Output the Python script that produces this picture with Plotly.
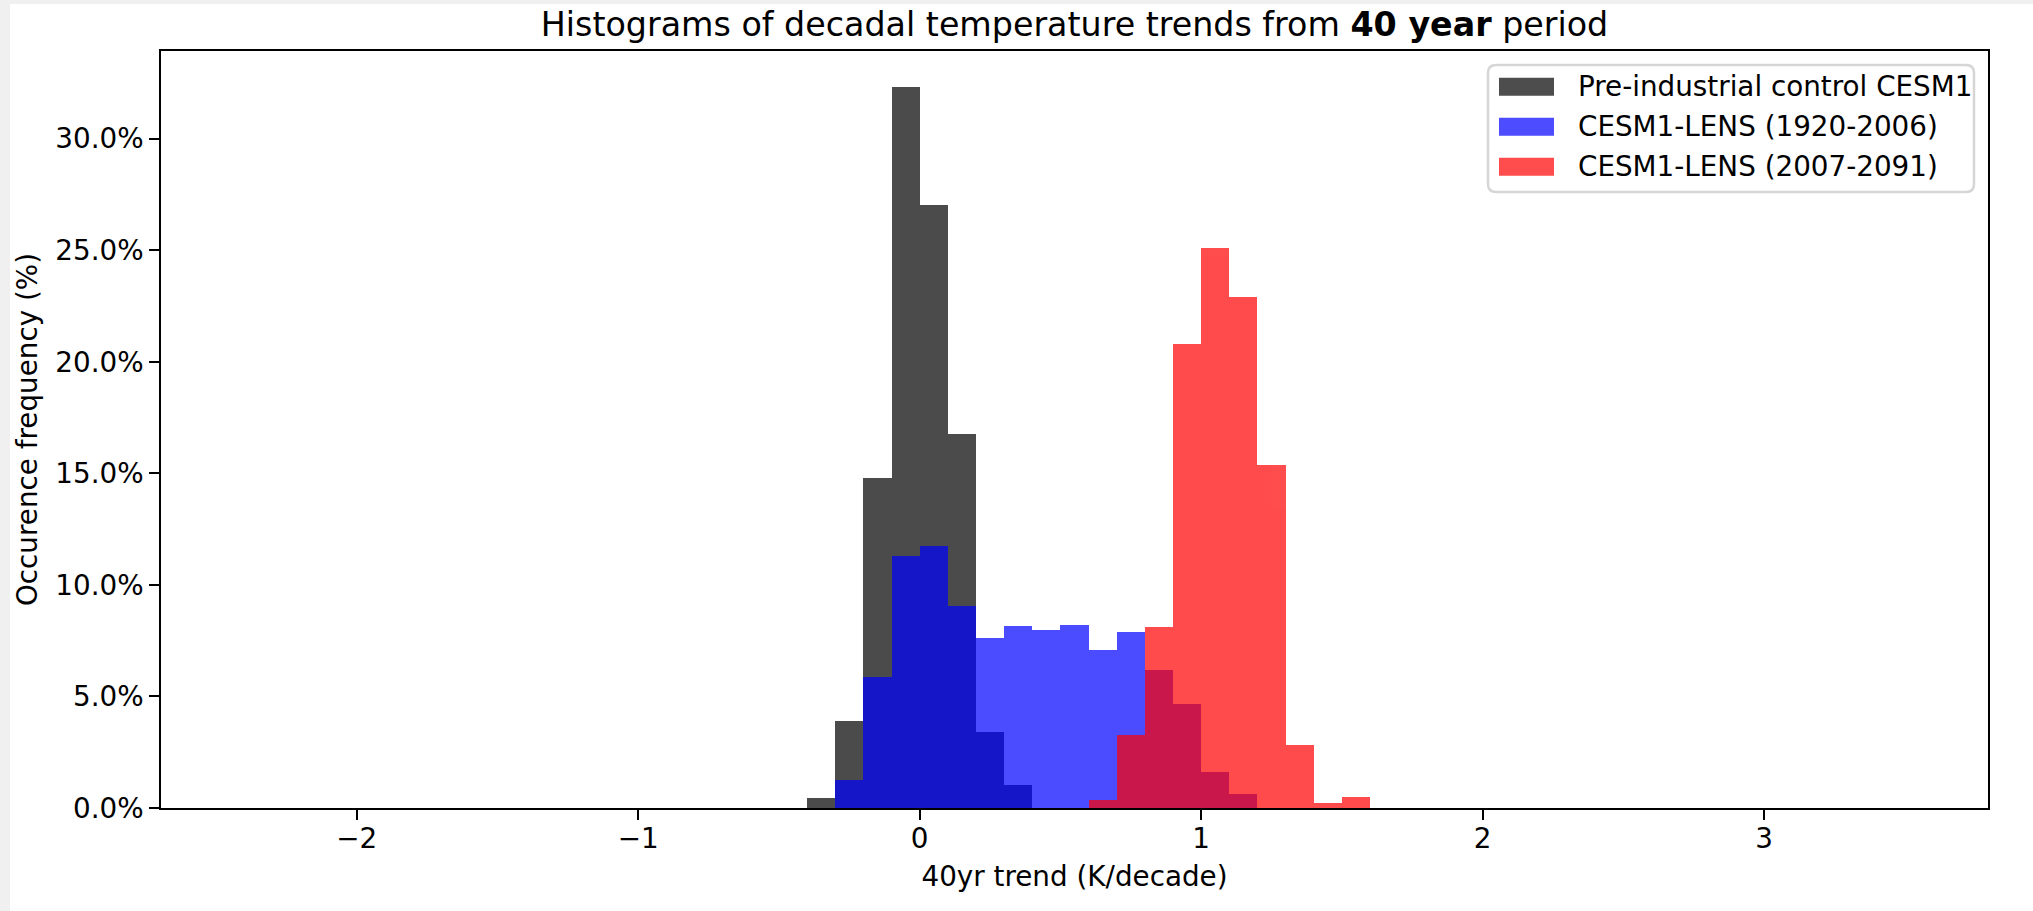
import plotly.graph_objects as go

# Histogram bins (K/decade): lower edges, 0.1 wide
bin_width = 0.1
bin_lower = [-0.4, -0.3, -0.2, -0.1, 0.0, 0.1, 0.2, 0.3, 0.4, 0.5,
             0.6, 0.7, 0.8, 0.9, 1.0, 1.1, 1.2, 1.3, 1.4, 1.5]

# Occurrence frequency (%) per bin
picontrol = [0.46, 3.88, 14.8, 32.3, 27.05, 16.75, 3.41, 1.03, 0, 0,
             0, 0, 0, 0, 0, 0, 0, 0, 0, 0]
lens_hist = [0, 1.26, 5.88, 11.3, 11.75, 9.07, 7.62, 8.16, 7.98, 8.22,
             7.08, 7.9, 6.2, 4.65, 1.63, 0.62, 0, 0, 0, 0]
lens_future = [0, 0, 0, 0, 0, 0, 0, 0, 0, 0,
               0.34, 3.27, 8.12, 20.8, 25.1, 22.9, 15.37, 2.82, 0.24, 0.48]

series_names = ["Pre-industrial control CESM1",
                "CESM1-LENS (1920-2006)",
                "CESM1-LENS (2007-2091)"]
series_colors = ["black", "blue", "red"]
swatch_colors = ["#4d4d4d", "#4d4dff", "#ff4d4d"]

x_ticks = [-2, -1, 0, 1, 2, 3]
x_tick_text = ["\u22122", "\u22121", "0", "1", "2", "3"]
y_ticks = [0, 5, 10, 15, 20, 25, 30]
y_tick_text = [f"{v:.1f}%" for v in y_ticks]

W, H = 2033, 911
ML, MR, MT, MB = 161, 45, 51, 103
PW, PH = W - ML - MR, H - MT - MB

FONT = "DejaVu Sans"
FS = 27.8

centers = [round(b + bin_width / 2, 3) for b in bin_lower]

fig = go.Figure()
for name, vals, col in zip(series_names, [picontrol, lens_hist, lens_future], series_colors):
    fig.add_trace(go.Bar(
        x=centers, y=vals, width=bin_width, name=name,
        marker=dict(color=col, line=dict(width=0)),
        opacity=0.7, showlegend=False,
    ))


def px_x(px):
    return (px - ML) / PW


def px_y(py):
    return (H - MB - py) / PH


shapes = []
# white figure canvas over a light-grey page
shapes.append(dict(type="rect", xref="paper", yref="paper", layer="below",
                   x0=px_x(10), x1=px_x(W + 5), y0=px_y(H + 5), y1=px_y(4),
                   fillcolor="white", line=dict(width=0)))

# legend frame with rounded corners
lx0, lx1, ly0, ly1, r = 1488, 1974, 65, 192, 8
rx = r / PW
ry = r / PH
X0, X1, Y0, Y1 = px_x(lx0), px_x(lx1), px_y(ly1), px_y(ly0)
path = (f"M {X0 + rx},{Y1} L {X1 - rx},{Y1} Q {X1},{Y1} {X1},{Y1 - ry} "
        f"L {X1},{Y0 + ry} Q {X1},{Y0} {X1 - rx},{Y0} "
        f"L {X0 + rx},{Y0} Q {X0},{Y0} {X0},{Y0 + ry} "
        f"L {X0},{Y1 - ry} Q {X0},{Y1} {X0 + rx},{Y1} Z")
shapes.append(dict(type="path", xref="paper", yref="paper", path=path,
                   fillcolor="rgba(255,255,255,0.8)",
                   line=dict(color="#d6d6d6", width=2.5)))

annotations = []
row_centers = [86.7, 126.7, 166.7]
for name, col, cy in zip(series_names, swatch_colors, row_centers):
    shapes.append(dict(type="rect", xref="paper", yref="paper",
                       x0=px_x(1499), x1=px_x(1554),
                       y0=px_y(cy + 9), y1=px_y(cy - 9),
                       fillcolor=col, line=dict(width=0)))
    annotations.append(dict(xref="paper", yref="paper", x=px_x(1576), y=px_y(cy),
                            xanchor="left", yanchor="middle", showarrow=False,
                            text=name, font=dict(family=FONT, size=FS, color="black")))

fig.update_layout(
    width=W, height=H,
    margin=dict(l=ML, r=MR, t=MT, b=MB, autoexpand=False),
    paper_bgcolor="#f0f0f0", plot_bgcolor="white",
    barmode="overlay", bargap=0,
    font=dict(family=FONT, size=FS, color="black"),
    title=dict(text="Histograms of decadal temperature trends from <b>40 year</b> period",
               x=0.5, xref="paper", xanchor="center",
               y=1 - 24 / H, yref="container", yanchor="middle",
               font=dict(family=FONT, size=33.3, color="black")),
    shapes=shapes, annotations=annotations,
)

fig.update_xaxes(
    range=[-2.695, 3.795], tickvals=x_ticks, ticktext=x_tick_text,
    showgrid=False, zeroline=False,
    showline=True, linecolor="black", linewidth=2.2, mirror=True,
    ticks="outside", ticklen=9.7, tickwidth=2.2, tickcolor="black",
    ticklabelstandoff=-5,
    title=dict(text="40yr trend (K/decade)", standoff=12,
               font=dict(family=FONT, size=FS)),
)
fig.update_yaxes(
    range=[0, 33.93], tickvals=y_ticks, ticktext=y_tick_text,
    showgrid=False, zeroline=False,
    showline=True, linecolor="black", linewidth=2.2, mirror=True,
    ticks="outside", ticklen=9.7, tickwidth=2.2, tickcolor="black",
    title=dict(text="Occurence frequency (%)", standoff=10,
               font=dict(family=FONT, size=FS)),
)

fig.write_html("out.html")
